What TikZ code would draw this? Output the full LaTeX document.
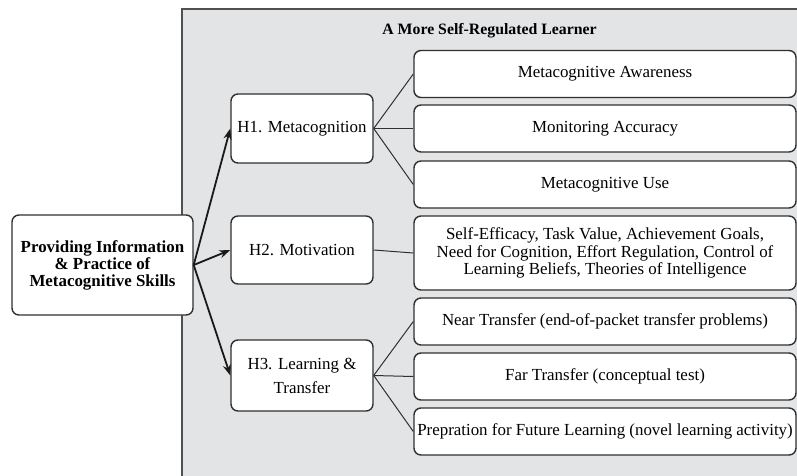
\documentclass[tikz,border=0pt]{standalone}
\usepackage{fontspec}
\setmainfont{Liberation Serif}
\usetikzlibrary{arrows.meta}
\definecolor{panelgray}{HTML}{E3E4E6}
\definecolor{panelline}{HTML}{505050}
\definecolor{boxline}{HTML}{303030}
\begin{document}
\begin{tikzpicture}[x=0.5pt,y=-0.5pt,
  box/.style={draw=boxline,line width=0.7pt,rounded corners=3.5pt,fill=white,align=center,inner sep=0pt,
    font=\fontsize{8.45}{8.7}\selectfont},
  hbox/.style={box,minimum width=71pt},
  rbox/.style={box,minimum width=191pt,minimum height=23.5pt},
  arr/.style={line width=0.9pt,draw=black!90,-{Stealth[length=5.5pt,width=4pt]}},
  conn/.style={line width=0.5pt,draw=boxline}]
\useasboundingbox (0,0) rectangle (797,476);
\clip (0,0) rectangle (797,476);
\fill[white] (0,0) rectangle (797,476);
% panel
\filldraw[fill=panelgray,draw=panelline,line width=1pt] (182,9) rectangle (810,490);
\node[font=\bfseries\fontsize{7.9}{8.2}\selectfont] (title) at (489.5,31) {A More Self-Regulated Learner};
% left box
\node[box,minimum width=90.5pt,minimum height=50pt,font=\bfseries\fontsize{8.45}{8.5}\selectfont] (src) at (102.5,265)
  {Providing Information\\\& Practice of\\Metacognitive Skills};
% H boxes
\node[hbox,minimum height=34.5pt] (h1) at (302,128.5) {H1. Metacognition};
\node[hbox,minimum height=34pt] (h2) at (302,250) {H2. Motivation};
\node[hbox,minimum height=35.5pt,font=\fontsize{8.45}{12}\selectfont] (h3) at (302,375.5) {H3. Learning \&\\Transfer};
% right boxes
\node[rbox] (ma) at (605,74) {Metacognitive Awareness};
\node[rbox] (mac) at (605,128.5) {Monitoring Accuracy};
\node[rbox] (mu) at (605,184.5) {Metacognitive Use};
\node[rbox,minimum height=37pt] (mot) at (605,253)
  {Self-Efficacy, Task Value, Achievement Goals,\\Need for Cognition, Effort Regulation, Control of\\Learning Beliefs, Theories of Intelligence};
\node[rbox] (near) at (605,321.5) {Near Transfer (end-of-packet transfer problems)};
\node[rbox] (far) at (605,376.5) {Far Transfer (conceptual test)};
\node[rbox] (prep) at (605,431.5) {Prepration for Future Learning (novel learning activity)};
% arrows
\draw[arr] (src.east) -- (h1.west);
\draw[arr] (src.east) -- (h2.west);
\draw[arr] (src.east) -- (h3.west);
% connectors
\draw[conn] (h1.east) -- (ma.west);
\draw[conn] (h1.east) -- (mac.west);
\draw[conn] (h1.east) -- (mu.west);
\draw[conn] (h2.east) -- (mot.west);
\draw[conn] (h3.east) -- (near.west);
\draw[conn] (h3.east) -- (far.west);
\draw[conn] (h3.east) -- (prep.west);
\end{tikzpicture}
\end{document}
